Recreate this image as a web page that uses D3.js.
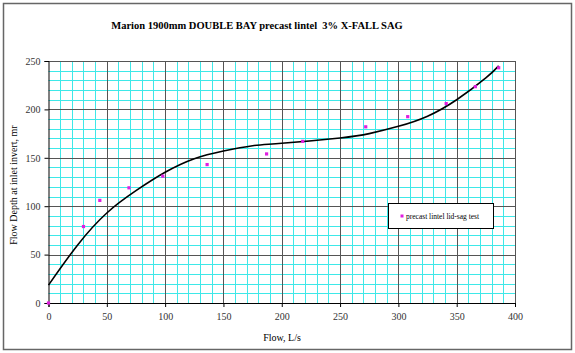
<!DOCTYPE html>
<html>
<head>
<meta charset="utf-8" />
<title>Marion 1900mm DOUBLE BAY</title>
<script src="https://cdn.jsdelivr.net/npm/d3@7/dist/d3.min.js"></script>
<style>
  body { margin: 0; background: #fff; }
  text { font-family: "Liberation Serif", "Times New Roman", serif; }
</style>
</head>
<body>
<svg width="575" height="353"></svg>
<script>
  // measured test points
  var flow = [0, 30, 44, 69, 98, 136, 187, 218, 272, 308, 341, 366, 386];
  var depth = [0, 79, 106, 119, 131, 143, 154, 167, 182, 192.5, 206, 223.5, 243];

  // trendline
  var fitFlow = [0, 25, 50, 75, 100, 125, 150, 175, 200, 250, 275, 300, 325, 350, 375, 386];
  var fitDepth = [18.5, 60, 93, 116, 135, 149, 157, 162.5, 165, 170.5, 175, 182.5, 193, 210, 232.5, 245];

  var xTicks = [0, 50, 100, 150, 200, 250, 300, 350, 400];
  var yTicks = [0, 50, 100, 150, 200, 250];

  var svg = d3.select("svg");

  // outer frame
  svg.append("rect")
    .attr("x", 3.5).attr("y", 3.5)
    .attr("width", 568).attr("height", 346)
    .attr("fill", "#fff").attr("stroke", "#666").attr("stroke-width", 1.5);

  var x = d3.scaleLinear().domain([0, 400]).range([48.5, 515]);
  var y = d3.scaleLinear().domain([0, 250]).range([303, 61]);

  var g = svg.append("g");

  // minor grid every 10
  var minorX = d3.range(10, 400, 10).filter(function(v){ return v % 50 != 0; });
  var minorY = d3.range(10, 250, 10).filter(function(v){ return v % 50 != 0; });
  g.selectAll(".mx").data(minorX).enter().append("line")
    .attr("x1", function(d){ return Math.round(x(d)) + 0.5; })
    .attr("x2", function(d){ return Math.round(x(d)) + 0.5; })
    .attr("y1", y(0)).attr("y2", y(250))
    .attr("stroke", "#3ee8e8").attr("stroke-width", 1);
  g.selectAll(".my").data(minorY).enter().append("line")
    .attr("y1", function(d){ return Math.round(y(d)) + 0.5; })
    .attr("y2", function(d){ return Math.round(y(d)) + 0.5; })
    .attr("x1", x(0)).attr("x2", x(400))
    .attr("stroke", "#3ee8e8").attr("stroke-width", 1);

  // major grid every 50
  g.selectAll(".gx").data(xTicks.slice(1)).enter().append("line")
    .attr("x1", function(d){ return Math.round(x(d)) + 0.5; })
    .attr("x2", function(d){ return Math.round(x(d)) + 0.5; })
    .attr("y1", y(0)).attr("y2", y(250))
    .attr("stroke", "#555").attr("stroke-width", 1);
  g.selectAll(".gy").data(yTicks.slice(1)).enter().append("line")
    .attr("y1", function(d){ return Math.round(y(d)) + 0.5; })
    .attr("y2", function(d){ return Math.round(y(d)) + 0.5; })
    .attr("x1", x(0)).attr("x2", x(400))
    .attr("stroke", "#555").attr("stroke-width", 1);

  // axes
  var xAxis = d3.axisBottom(x).tickValues(xTicks).tickSize(4).tickPadding(6);
  var yAxis = d3.axisLeft(y).tickValues(yTicks).tickSize(4).tickPadding(4);

  var gx = svg.append("g").attr("transform", "translate(0," + y(0) + ")").call(xAxis);
  var gy = svg.append("g").attr("transform", "translate(" + x(0) + ",0)").call(yAxis);
  [gx, gy].forEach(function(a){
    a.select(".domain").attr("stroke", "#000");
    a.selectAll(".tick line").attr("stroke", "#000");
    a.selectAll(".tick text")
      .attr("fill", "#333")
      .style("font-size", "10px")
      .style("font-family", "'Liberation Serif', serif");
  });

  // trendline
  var line = d3.line()
    .x(function(d){ return x(d[0]); })
    .y(function(d){ return y(d[1]); })
    .curve(d3.curveNatural);
  svg.append("path")
    .datum(d3.zip(fitFlow, fitDepth))
    .attr("d", line)
    .attr("fill", "none")
    .attr("stroke", "#000")
    .attr("stroke-width", 1.6);

  // points
  svg.selectAll(".pt").data(d3.zip(flow, depth)).enter().append("rect")
    .attr("x", function(d){ return x(d[0]) - 1.6; })
    .attr("y", function(d){ return y(d[1]) - 1.6; })
    .attr("width", 3.2).attr("height", 3.2)
    .attr("fill", "#e01ee0");

  // title
  svg.append("text")
    .attr("x", 257).attr("y", 29)
    .attr("text-anchor", "middle")
    .attr("xml:space", "preserve")
    .style("font-size", "10.5px").style("font-weight", "bold")
    .text("Marion 1900mm DOUBLE BAY precast lintel  3% X-FALL SAG");

  // axis titles
  svg.append("text")
    .attr("x", 282).attr("y", 341)
    .attr("text-anchor", "middle")
    .style("font-size", "10px")
    .text("Flow, L/s");
  svg.append("text")
    .attr("transform", "translate(17,185) rotate(-90)")
    .attr("text-anchor", "middle")
    .style("font-size", "10px")
    .text("Flow Depth at inlet invert, mr");

  // legend
  var lg = svg.append("g");
  lg.append("rect")
    .attr("x", 388.5).attr("y", 203.5)
    .attr("width", 105).attr("height", 25)
    .attr("fill", "#fff").attr("stroke", "#000").attr("stroke-width", 1);
  lg.append("rect")
    .attr("x", 400.5).attr("y", 214.5).attr("width", 3).attr("height", 3)
    .attr("fill", "#e01ee0");
  lg.append("text")
    .attr("x", 406).attr("y", 219)
    .style("font-size", "7.5px")
    .text("precast lintel lid-sag test");
</script>
</body>
</html>
